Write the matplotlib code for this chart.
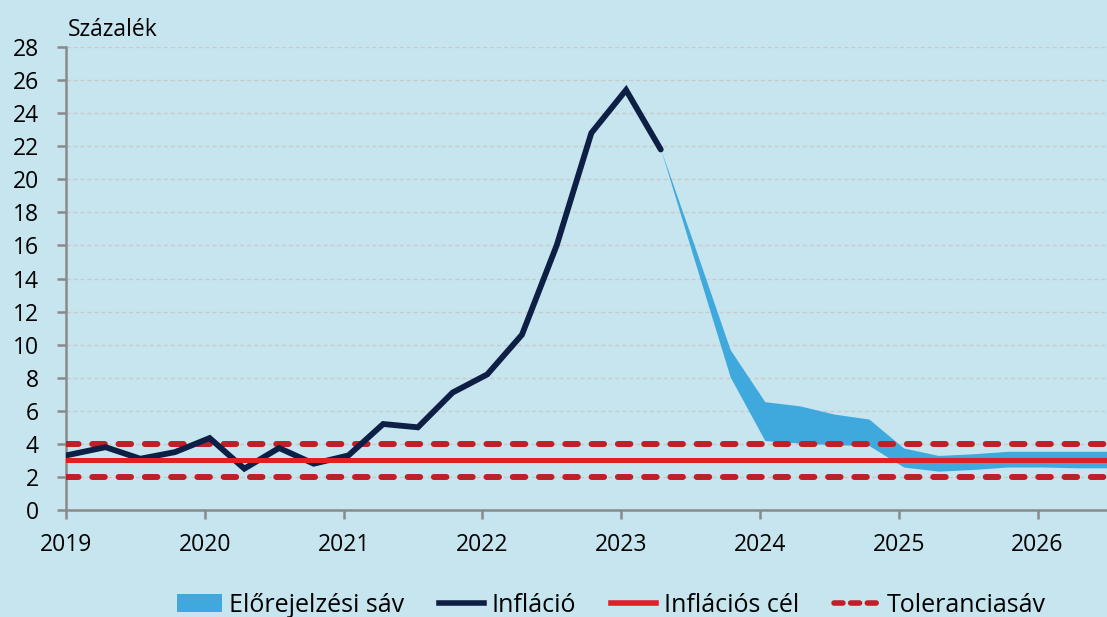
import matplotlib.pyplot as plt
from matplotlib.patches import Patch
from matplotlib.lines import Line2D
import numpy as np

# quarterly values, 2019 Q1 .. 2023 Q2
inflation = [3.3, 3.8, 3.1, 3.5, 4.35, 2.5, 3.75, 2.8, 3.3, 5.2, 5.0, 7.1,
             8.2, 10.6, 16.0, 22.8, 25.4, 21.8]

# forecast band, 2023 Q2 .. 2026 Q3
band_start = 17
band_upper = [21.8, 15.8, 9.7, 6.55, 6.3, 5.8, 5.5, 3.75, 3.3, 3.4, 3.55, 3.55, 3.55, 3.55]
band_lower = [21.8, 14.9, 8.05, 4.2, 4.05, 3.95, 3.9, 2.6, 2.35, 2.45, 2.6, 2.6, 2.55, 2.55]

target = 3
tol_low, tol_high = 2, 4
years = [2019, 2020, 2021, 2022, 2023, 2024, 2025, 2026]

bg = "#c7e5ee"
navy = "#0e1f46"
red = "#e01f28"
darkred = "#c01f27"
blue = "#3fa9dd"

plt.rcParams['font.family'] = ['Open Sans', 'DejaVu Sans']

fig = plt.figure(figsize=(11.07, 6.17), dpi=100, facecolor=bg)
ax = fig.add_axes([66 / 1107, 1 - 510 / 617, 1 - 66 / 1107, (510 - 47) / 617])
ax.set_facecolor(bg)

off = 0.14
x_inf = np.arange(len(inflation)) + off
x_inf[0] = 0
x_band = np.arange(band_start, band_start + len(band_upper)) + off

ax.set_xlim(0, 30)
ax.set_ylim(0, 28)

ax.set_yticks(range(0, 29, 2))
ax.grid(axis="y", color="#c9c9c9", linestyle=(0, (3, 2)), linewidth=1.0, zorder=0)

ax.fill_between(x_band, band_lower, band_upper, color=blue, linewidth=0, zorder=2)

ax.axhline(tol_low, color=darkred, linewidth=4.3, linestyle=(0, (2.1, 2.3)),
           dash_capstyle="round", zorder=3)
ax.axhline(tol_high, color=darkred, linewidth=4.3, linestyle=(0, (2.1, 2.3)),
           dash_capstyle="round", zorder=3)
ax.plot(x_inf, inflation, color=navy, linewidth=4.2, solid_capstyle="round",
        solid_joinstyle="miter", zorder=4)
ax.axhline(target, color=red, linewidth=3.6, zorder=5)

ax.set_xticks([4 * i for i in range(len(years))])
ax.set_xticklabels([str(y) for y in years])

for s in ["top", "right"]:
    ax.spines[s].set_visible(False)
for s in ["left", "bottom"]:
    ax.spines[s].set_color("#8a8a8a")
    ax.spines[s].set_linewidth(1.8)
ax.tick_params(axis="both", colors="#8a8a8a", width=1.8, length=6.5, labelsize=16.5,
               labelcolor="black")
ax.tick_params(axis="y", pad=13)
ax.tick_params(axis="x", pad=10)

fig.text(68 / 1107, 1 - 30 / 617, "Százalék", fontsize=16.5, va="center", ha="left")

handles = [
    Patch(facecolor=blue, edgecolor="none"),
    Line2D([0], [0], color=navy, linewidth=4),
    Line2D([0], [0], color=red, linewidth=4),
    Line2D([0], [0], color=darkred, linewidth=4, linestyle=(0, (1.6, 1.4)),
           dash_capstyle="round"),
]
labels = ["Előrejelzési sáv", "Infláció", "Inflációs cél", "Toleranciasáv"]
fig.legend(handles, labels, loc="center", bbox_to_anchor=(611 / 1107, 1 - 605 / 617),
           ncol=4, frameon=False, fontsize=18,
           handlelength=1.8, handletextpad=0.3, columnspacing=1.4,
           borderpad=0, borderaxespad=0)

fig.savefig("out.png", dpi=100, facecolor=bg)
